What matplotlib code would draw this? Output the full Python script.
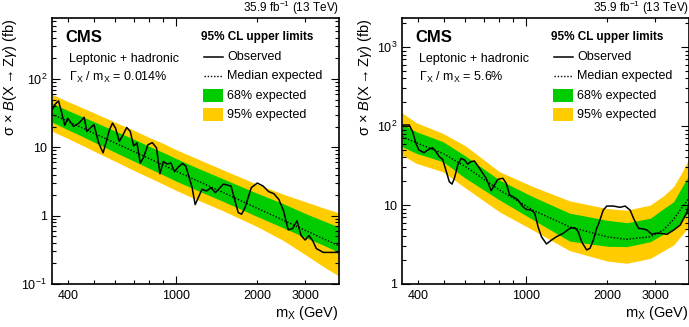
import numpy as np
import matplotlib
matplotlib.use('Agg')
import matplotlib.pyplot as plt
from matplotlib.ticker import FixedLocator, FixedFormatter, NullFormatter
from matplotlib.patches import Rectangle
from matplotlib.lines import Line2D

plt.rcParams['font.family'] = ['Liberation Sans', 'DejaVu Sans']
plt.rcParams['mathtext.fontset'] = 'custom'
plt.rcParams['mathtext.rm'] = 'Liberation Sans'
plt.rcParams['mathtext.it'] = 'Liberation Sans:italic'
plt.rcParams['mathtext.bf'] = 'Liberation Sans:bold'
plt.rcParams['mathtext.sf'] = 'Liberation Sans'

GREEN = '#00cc00'
YELLOW = '#ffcc00'

# ---- left panel: narrow width (0.014%) ----
l_mass_band = [350, 400, 450, 500, 600, 700, 800, 900, 1000, 1200, 1500, 2000, 2500, 3000, 3500, 4000]
l_median = [30.6, 24.0, 19.4, 16.0, 11.5, 8.7, 6.8, 5.5, 4.5, 3.25, 2.17, 1.28, 0.855, 0.61, 0.46, 0.363]
l_hi2 = [59.7, 46.8, 38.3, 31.9, 23.2, 17.8, 13.9, 11.4, 9.3, 6.8, 4.64, 2.87, 2.05, 1.60, 1.30, 1.10]
l_hi1 = [44.2, 34.7, 28.4, 23.7, 17.2, 13.2, 10.3, 8.4, 6.9, 5.0, 3.44, 2.12, 1.49, 1.08, 0.84, 0.68]
l_lo1 = [23.4, 18.1, 14.6, 11.9, 8.4, 6.3, 4.9, 3.94, 3.22, 2.35, 1.61, 0.97, 0.66, 0.48, 0.37, 0.29]
l_lo2 = [17.2, 13.5, 10.8, 8.8, 6.2, 4.6, 3.6, 2.89, 2.36, 1.71, 1.17, 0.69, 0.43, 0.27, 0.18, 0.13]

l_mass_obs = [350, 360, 370, 380, 390, 400, 420, 440, 460, 470, 490, 500, 520, 540, 555,
              570, 585, 600, 620, 640, 660, 680, 700, 720, 740, 760, 790, 820, 850, 875,
              900, 930, 960, 990, 1030, 1060, 1090, 1150, 1180, 1250, 1300, 1350, 1400,
              1500, 1600, 1700, 1750, 1800, 1900, 2000, 2100, 2200, 2300, 2400, 2500,
              2550, 2600, 2700, 2800, 2900, 3000, 3100, 3200, 3300, 3500, 4000]
l_obs = [35, 43, 47.7, 32, 21, 26.7, 20.2, 22.6, 27.5, 17.1, 20, 21.4, 11.6, 8.3, 12.2,
         18, 22.6, 19.1, 12.2, 15.3, 19.5, 17.1, 10.4, 11.6, 5.9, 7.0, 10.9, 11.7, 9.8, 4.1,
         6.2, 5.7, 5.9, 4.4, 5.3, 5.8, 5.3, 2.57, 1.45, 2.43, 2.3, 2.57, 2.17,
         2.9, 2.71, 1.11, 1.05, 1.3, 2.57, 3.0, 2.71, 2.25, 2.1, 1.73, 1.17,
         0.84, 0.62, 0.65, 0.84, 0.51, 0.44, 0.51, 0.43, 0.33, 0.29, 0.29]

# ---- right panel: wide width (5.6%) ----
r_mass_band = [350, 395, 495, 600, 800, 1065, 1450, 2000, 2360, 2880, 3225, 3510, 3770, 4000]
r_median = [73, 61.5, 45.1, 30.6, 15.5, 8.6, 5.3, 3.95, 3.68, 3.97, 4.83, 6.6, 9.3, 12.2]
r_hi2 = [147, 110, 80.7, 56, 26.4, 17.1, 11.3, 9.0, 8.6, 10.0, 13.1, 17.1, 26, 39]
r_hi1 = [106, 84.7, 63.4, 41.7, 20.7, 12.7, 7.9, 6.4, 5.97, 6.8, 9.0, 11.0, 16.9, 24]
r_lo1 = [54.7, 45.1, 35.4, 21.8, 11.6, 6.5, 3.5, 3.0, 2.97, 3.43, 4.3, 4.83, 6.4, 8.2]
r_lo2 = [42.9, 33.7, 26.4, 16.4, 8.2, 4.8, 2.65, 1.95, 1.83, 2.11, 2.64, 3.12, 4.2, 5.3]

r_mass_obs = [350, 372, 383, 394, 404, 422, 435, 453, 467, 480, 494, 508, 523, 535, 546,
              562, 578, 595, 611, 629, 647, 676, 715, 746, 767, 789, 824, 848, 873, 898,
              936, 977, 1006, 1050, 1080, 1111, 1143, 1193, 1245, 1299, 1375, 1455, 1518,
              1562, 1607, 1678, 1726, 1776, 1827, 1865, 1931, 1991, 2104, 2228, 2326, 2428,
              2497, 2605, 2718, 2797, 2918, 3004, 3134, 3318, 3514, 3713, 3937, 4000]
r_obs = [103, 103, 84.7, 60.4, 49.7, 45.9, 49.7, 53.2, 47.3, 40.9, 37.9, 27.7, 19.7, 18.4, 21.8,
         32.1, 39, 37.1, 33, 35.4, 36.1, 29.1, 21.8, 15.2, 17.9, 21.1, 21.8, 18.8, 13.4, 12.7,
         11.6, 9.5, 8.8, 8.6, 7.85, 5.3, 3.97, 3.21, 3.6, 3.97, 4.38, 5.07, 5.15,
         4.6, 3.43, 2.7, 2.83, 3.6, 5.07, 6.0, 8.6, 9.7, 9.7, 9.35, 9.7, 8.6,
         6.8, 5.07, 4.97, 4.83, 4.26, 4.38, 4.38, 4.26, 4.83, 5.58, 8.2, 10.3]

x_minor = [400, 500, 600, 700, 800, 900, 2000, 3000]
x_minor_labels = ['400', '', '', '', '', '', '2000', '3000']


def draw_panel(ax, mass_b, med, lo2, lo1, hi1, hi2, mass_o, obs, ylim, yticks, ylabels, width_txt):
    ax.fill_between(mass_b, lo2, hi2, color=YELLOW, lw=0)
    ax.fill_between(mass_b, lo1, hi1, color=GREEN, lw=0)
    ax.plot(mass_b, med, color='black', ls=(0, (1, 1.3)), lw=1.0)
    ax.plot(mass_o, obs, color='black', lw=1.1)
    ax.set_xscale('log')
    ax.set_yscale('log')
    ax.set_xlim(350, 4000)
    ax.set_ylim(*ylim)

    ax.xaxis.set_major_locator(FixedLocator([1000]))
    ax.xaxis.set_major_formatter(FixedFormatter(['1000']))
    ax.xaxis.set_minor_locator(FixedLocator(x_minor))
    ax.xaxis.set_minor_formatter(FixedFormatter(x_minor_labels))
    ax.yaxis.set_major_locator(FixedLocator(yticks))
    ax.yaxis.set_major_formatter(FixedFormatter(ylabels))
    ymin_dec = int(np.log10(ylim[0]))
    yminor = [k * 10.0 ** d for d in range(ymin_dec, 4) for k in range(2, 10)]
    ax.yaxis.set_minor_locator(FixedLocator(yminor))
    ax.yaxis.set_minor_formatter(NullFormatter())

    ax.tick_params(which='both', direction='in', top=True, right=True, width=0.8, labelsize=9)
    ax.tick_params(which='major', length=6)
    ax.tick_params(which='minor', length=3)
    ax.tick_params(axis='x', which='both', pad=4)
    for s in ax.spines.values():
        s.set_linewidth(1.2)

    ax.set_xlabel('m$_{\\mathrm{X}}$ (GeV)', fontsize=10.5, loc='right', labelpad=2)
    ax.set_ylabel('$\\mathrm{\\sigma}$ $\\times$ $\\mathit{B}$(X$\\rightarrow$Z$\\mathit{\\gamma}$) (fb)',
                  fontsize=10.5, loc='top', labelpad=2)

    t = ax.transAxes
    ax.text(1.0, 1.022, '35.9 fb$^{-1}$ (13 TeV)', transform=t, ha='right', va='baseline', fontsize=8.5)
    ax.text(0.045, 0.925, 'CMS', transform=t, ha='left', va='center', fontsize=12, fontweight='bold')
    ax.text(0.06, 0.846, 'Leptonic + hadronic', transform=t, ha='left', va='center', fontsize=9)
    ax.text(0.06, 0.778, '$\\Gamma_{\\mathrm{X}}$ / m$_{\\mathrm{X}}$ = ' + width_txt,
            transform=t, ha='left', va='center', fontsize=9)

    # legend
    ax.text(0.52, 0.929, '95% CL upper limits', transform=t, ha='left', va='center',
            fontsize=8.5, fontweight='bold')
    ax.add_line(Line2D([0.528, 0.597], [0.853, 0.853], transform=t, color='black', lw=1.1))
    ax.add_line(Line2D([0.528, 0.597], [0.782, 0.782], transform=t, color='black', lw=1.0,
                       ls=(0, (1, 1.3))))
    ax.add_patch(Rectangle((0.525, 0.683), 0.072, 0.049, transform=t, color=GREEN, lw=0))
    ax.add_patch(Rectangle((0.525, 0.611), 0.072, 0.049, transform=t, color=YELLOW, lw=0))
    labels = ['Observed', 'Median expected', '68% expected', '95% expected']
    for lab, yy in zip(labels, [0.853, 0.782, 0.707, 0.635]):
        ax.text(0.61, yy, lab, transform=t, ha='left', va='center', fontsize=9)


fig = plt.figure(figsize=(6.89, 3.27), dpi=100)
ax1 = fig.add_axes([52 / 689, 43 / 327, 287 / 689, 266 / 327])
ax2 = fig.add_axes([402 / 689, 43 / 327, 287 / 689, 266 / 327])

draw_panel(ax1, l_mass_band, l_median, l_lo2, l_lo1, l_hi1, l_hi2, l_mass_obs, l_obs,
           (0.1, 780), [0.1, 1, 10, 100], ['$10^{-1}$', '1', '10', '$10^{2}$'], '0.014%')
draw_panel(ax2, r_mass_band, r_median, r_lo2, r_lo1, r_hi1, r_hi2, r_mass_obs, r_obs,
           (1, 2330), [1, 10, 100, 1000], ['1', '10', '$10^{2}$', '$10^{3}$'], '5.6%')

fig.savefig('out.png', dpi=100)
